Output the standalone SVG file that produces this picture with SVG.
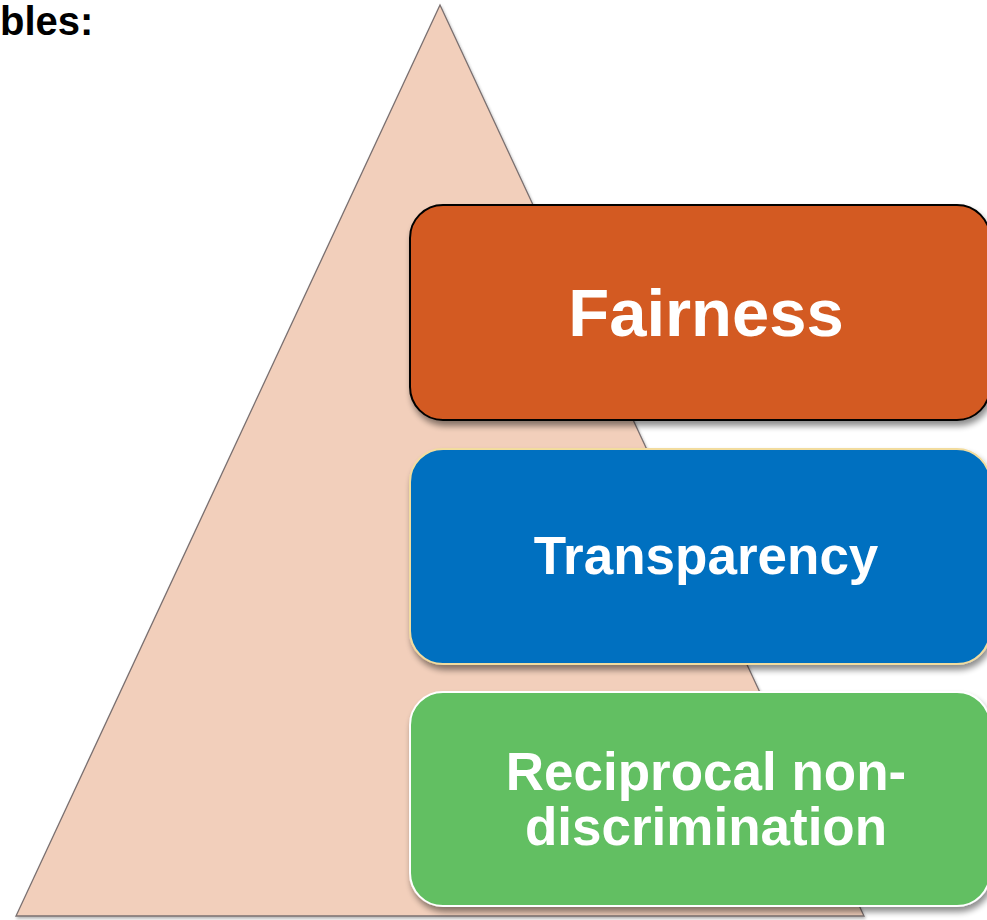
<svg xmlns="http://www.w3.org/2000/svg" width="987" height="920" viewBox="0 0 987 920">
  <style>
    .title { font-family: "Liberation Sans", Arial, sans-serif; font-weight: bold; fill: #000000; }
    .label { font-family: "Liberation Sans", Arial, sans-serif; font-weight: bold; fill: #ffffff; text-anchor: middle; }
    .box { filter: url(#shadow); }
  </style>
  <defs>
    <filter id="shadow" x="-10%" y="-10%" width="125%" height="130%">
      <feGaussianBlur in="SourceAlpha" stdDeviation="3"/>
      <feOffset dx="2" dy="5" result="blur"/>
      <feComponentTransfer><feFuncA type="linear" slope="0.45"/></feComponentTransfer>
      <feMerge><feMergeNode/><feMergeNode in="SourceGraphic"/></feMerge>
    </filter>
    <filter id="softShadow" x="-5%" y="-5%" width="110%" height="110%">
      <feGaussianBlur in="SourceAlpha" stdDeviation="1.5"/>
      <feOffset dx="1" dy="2"/>
      <feComponentTransfer><feFuncA type="linear" slope="0.3"/></feComponentTransfer>
      <feMerge><feMergeNode/><feMergeNode in="SourceGraphic"/></feMerge>
    </filter>
  </defs>

  <rect width="987" height="920" fill="#ffffff"/>

  <!-- heading fragment at the top-left corner -->
  <text class="title" x="0" y="35" font-size="40">bles:</text>

  <!-- pyramid -->
  <g id="pyramid">
    <polygon points="440,5 864,916 16,916" fill="#F2CFBB" stroke="#7a7070" stroke-width="1.3" filter="url(#softShadow)"/>
  </g>

  <g id="fairness" class="box">
    <rect x="410" y="205" width="580" height="215" rx="33" ry="33" fill="#D35A21" stroke="#000000" stroke-width="2"/>
    <text class="label" x="706" y="336" font-size="67">Fairness</text>
  </g>

  <g id="transparency" class="box">
    <rect x="410" y="449" width="580" height="215" rx="33" ry="33" fill="#0070C0" stroke="#F2DC9E" stroke-width="2"/>
    <text class="label" x="706" y="574" font-size="53">Transparency</text>
  </g>

  <g id="reciprocal" class="box">
    <rect x="410" y="692" width="580" height="214" rx="33" ry="33" fill="#62BF62" stroke="#ffffff" stroke-width="2"/>
    <text class="label" x="706" y="790" font-size="53">Reciprocal non-</text>
    <text class="label" x="706" y="845" font-size="53">discrimination</text>
  </g>

  <g id="connectors"/>
</svg>
